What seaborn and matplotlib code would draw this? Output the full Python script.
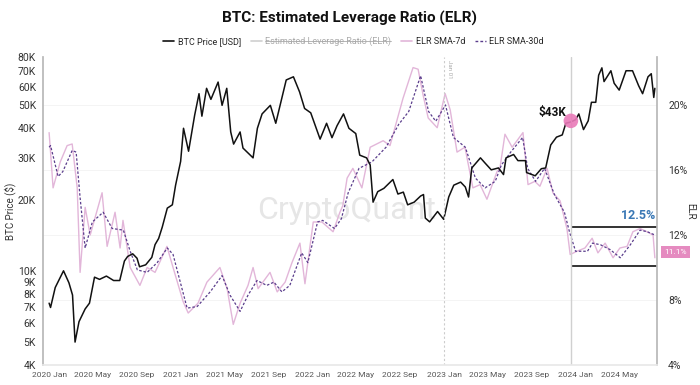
import pandas as pd
import matplotlib
matplotlib.use("Agg")
import matplotlib.pyplot as plt
import matplotlib.dates as mdates
from matplotlib.lines import Line2D
from matplotlib.ticker import NullLocator
import seaborn as sns

# BTC price (thousand USD)
btc_dates = ["2020-01-01", "2020-01-05", "2020-01-18", "2020-02-10", "2020-02-25", "2020-03-06",
             "2020-03-13", "2020-03-24", "2020-04-10", "2020-04-22", "2020-05-06", "2020-05-20",
             "2020-06-08", "2020-06-28", "2020-07-15", "2020-07-28", "2020-08-06", "2020-08-20",
             "2020-09-01", "2020-09-08", "2020-09-25", "2020-10-12", "2020-10-21", "2020-10-31",
             "2020-11-10", "2020-11-24", "2020-12-08", "2020-12-17", "2020-12-31", "2021-01-08",
             "2021-01-22", "2021-02-08", "2021-02-20", "2021-02-28", "2021-03-13", "2021-03-25",
             "2021-04-14", "2021-04-25", "2021-05-08", "2021-05-19", "2021-05-27", "2021-06-14",
             "2021-06-22", "2021-07-20", "2021-08-01", "2021-08-14", "2021-09-06", "2021-09-21",
             "2021-10-12", "2021-10-20", "2021-11-09", "2021-11-26", "2021-12-10", "2021-12-27",
             "2022-01-22", "2022-02-09", "2022-02-24", "2022-03-10", "2022-03-28", "2022-04-12",
             "2022-05-01", "2022-05-12", "2022-05-31", "2022-06-10", "2022-06-18", "2022-07-01",
             "2022-07-18", "2022-08-12", "2022-08-26", "2022-09-10", "2022-09-22", "2022-10-10",
             "2022-10-28", "2022-11-05", "2022-11-10", "2022-11-22", "2022-12-14", "2022-12-31",
             "2023-01-14", "2023-01-28", "2023-02-16", "2023-03-01", "2023-03-10", "2023-03-19",
             "2023-04-12", "2023-04-25", "2023-05-12", "2023-06-01", "2023-06-15", "2023-06-22",
             "2023-07-13", "2023-07-25", "2023-08-15", "2023-08-18", "2023-09-11", "2023-09-28",
             "2023-10-10", "2023-10-24", "2023-11-09", "2023-11-25", "2023-12-05", "2023-12-18",
             "2024-01-01", "2024-01-10", "2024-01-23", "2024-02-05", "2024-02-14", "2024-02-26",
             "2024-03-05", "2024-03-14", "2024-03-20", "2024-04-08", "2024-04-17", "2024-05-01",
             "2024-05-20", "2024-06-07", "2024-06-24", "2024-07-05", "2024-07-20", "2024-07-29",
             "2024-08-05", "2024-08-08"]
btc_price_k = [7.3, 7.0, 8.5, 10.0, 8.9, 7.9,
               5.0, 6.1, 6.9, 7.3, 9.4, 9.2,
               9.5, 9.1, 9.1, 11.0, 11.5, 11.8,
               11.3, 10.4, 10.6, 11.4, 12.9, 13.7,
               15.3, 18.4, 19.0, 23.0, 29.0, 40.0,
               32.0, 45.5, 56.0, 45.0, 59.0, 53.0,
               62.7, 50.0, 59.0, 38.6, 34.3, 38.6,
               33.0, 30.0, 40.0, 46.0, 50.0, 42.0,
               57.0, 64.0, 66.0, 57.0, 48.5, 46.5,
               36.0, 42.0, 36.5, 41.0, 46.0, 40.0,
               38.0, 30.8, 30.0, 28.0, 19.5, 21.6,
               22.3, 24.3, 21.1, 21.5, 19.0, 19.5,
               20.7, 21.0, 16.7, 16.1, 17.8, 16.5,
               20.5, 23.0, 23.7, 22.6, 20.5, 27.2,
               30.0, 28.5, 26.7, 27.2, 25.5, 30.0,
               31.0, 29.2, 29.2, 26.0, 25.2, 27.0,
               27.2, 34.0, 36.7, 37.5, 42.0, 42.5,
               43.5, 46.0, 39.5, 43.0, 51.5, 51.5,
               67.0, 72.0, 63.0, 70.0, 62.0, 58.0,
               70.0, 70.0, 60.5, 56.0, 66.0, 68.0,
               54.0, 59.0]

# ELR SMA-30d (%)
sma30_dates = ["2020-01-01", "2020-01-05", "2020-01-26", "2020-02-08", "2020-03-05", "2020-03-16",
               "2020-03-27", "2020-04-10", "2020-04-30", "2020-05-30", "2020-06-24", "2020-07-25",
               "2020-08-13", "2020-09-02", "2020-09-29", "2020-10-27", "2020-11-24", "2020-12-10",
               "2020-12-30", "2021-01-18", "2021-02-15", "2021-03-23", "2021-04-25", "2021-05-17",
               "2021-06-14", "2021-07-06", "2021-07-31", "2021-08-27", "2021-09-16", "2021-10-08",
               "2021-10-30", "2021-12-02", "2021-12-19", "2022-01-15", "2022-01-29", "2022-03-03",
               "2022-03-22", "2022-04-10", "2022-05-10", "2022-06-15", "2022-07-24", "2022-08-28",
               "2022-09-25", "2022-10-28", "2022-11-19", "2022-12-09", "2023-01-05", "2023-01-27",
               "2023-03-01", "2023-03-29", "2023-04-25", "2023-05-23", "2023-06-09", "2023-07-05",
               "2023-08-07", "2023-08-21", "2023-09-12", "2023-10-07", "2023-11-03", "2023-12-01",
               "2023-12-15", "2024-01-01", "2024-02-03", "2024-02-17", "2024-03-10", "2024-04-06",
               "2024-05-04", "2024-06-01", "2024-06-28", "2024-07-18", "2024-08-08"]
sma30_elr = [17.4, 17.5, 15.6, 15.9, 17.2, 17.1,
             14.3, 11.2, 12.8, 13.4, 12.4, 12.3,
             11.0, 9.85, 9.7, 10.3, 11.2, 10.8,
             9.1, 7.5, 7.6, 8.5, 9.5, 8.3,
             7.3, 8.3, 9.2, 8.9, 9.1, 8.5,
             8.9, 10.9, 10.3, 12.8, 12.9, 12.4,
             13.0, 14.6, 16.1, 16.5, 17.4, 18.8,
             19.6, 21.8, 19.6, 19.0, 20.0, 18.0,
             17.4, 15.5, 14.9, 15.3, 16.3, 17.1,
             18.0, 16.1, 15.3, 16.1, 14.5, 13.4,
             12.2, 11.0, 11.0, 11.5, 11.4, 11.1,
             10.6, 11.4, 12.3, 12.2, 12.0]

# ELR SMA-7d (%)
sma7_dates = ["2020-01-01", "2020-01-05", "2020-01-12", "2020-02-01", "2020-02-20", "2020-03-05",
              "2020-03-19", "2020-03-27", "2020-04-10", "2020-04-24", "2020-05-27", "2020-06-10",
              "2020-07-02", "2020-07-16", "2020-07-24", "2020-08-13", "2020-09-09", "2020-09-29",
              "2020-10-21", "2020-11-23", "2020-12-10", "2021-01-07", "2021-01-21", "2021-02-17",
              "2021-03-14", "2021-04-19", "2021-05-09", "2021-05-26", "2021-06-14", "2021-07-06",
              "2021-07-20", "2021-08-03", "2021-09-05", "2021-09-25", "2021-10-17", "2021-11-05",
              "2021-11-27", "2021-12-11", "2022-01-03", "2022-01-27", "2022-02-27", "2022-03-18",
              "2022-03-26", "2022-04-07", "2022-04-23", "2022-05-18", "2022-06-10", "2022-07-16",
              "2022-08-04", "2022-09-09", "2022-10-07", "2022-10-21", "2022-11-04", "2022-11-18",
              "2022-12-13", "2023-01-04", "2023-01-18", "2023-02-06", "2023-02-28", "2023-03-22",
              "2023-04-11", "2023-04-30", "2023-05-28", "2023-06-05", "2023-06-19", "2023-07-09",
              "2023-08-08", "2023-08-22", "2023-09-10", "2023-09-24", "2023-10-14", "2023-10-30",
              "2023-11-19", "2023-12-08", "2023-12-17", "2024-01-05", "2024-01-27", "2024-02-16",
              "2024-03-03", "2024-03-23", "2024-04-14", "2024-05-03", "2024-05-23", "2024-06-08",
              "2024-06-28", "2024-07-17", "2024-08-03", "2024-08-08"]
sma7_elr = [18.3, 17.1, 14.9, 16.5, 17.5, 17.6,
            14.9, 9.7, 13.7, 12.0, 14.6, 11.3,
            13.4, 11.2, 12.9, 10.0, 8.9, 10.0,
            9.7, 11.3, 10.0, 7.9, 7.2, 7.8,
            9.1, 10.0, 8.7, 6.5, 7.8, 8.9,
            10.0, 8.7, 9.7, 8.5, 9.1, 10.3,
            11.5, 9.0, 12.8, 12.8, 12.2, 13.4,
            13.8, 15.5, 16.1, 14.9, 17.4, 17.8,
            17.5, 20.4, 22.3, 22.2, 20.6, 19.2,
            18.6, 20.7, 19.7, 17.1, 17.4, 14.9,
            15.1, 14.2, 15.9, 16.1, 18.2, 17.4,
            18.3, 15.1, 15.3, 15.0, 16.1, 14.6,
            14.1, 12.4, 10.8, 11.0, 11.2, 11.8,
            10.9, 11.5, 10.6, 11.2, 11.3, 12.2,
            12.4, 12.2, 12.0, 10.6]

left_ticks = [4000, 5000, 6000, 7000, 8000, 9000, 10000, 20000, 30000, 40000, 50000, 60000, 70000, 80000]
left_labels = ["4K", "5K", "6K", "7K", "8K", "9K", "10K", "20K", "30K", "40K", "50K", "60K", "70K", "80K"]
right_ticks = [4, 8, 12, 16, 20]
right_labels = ["4%", "8%", "12%", "16%", "20%"]
legend_labels = ["BTC Price [USD]", "Estimated Leverage Ratio (ELR)", "ELR SMA-7d", "ELR SMA-30d"]

df_btc = pd.DataFrame({"date": pd.to_datetime(btc_dates), "price": [p * 1000 for p in btc_price_k]})
df_30 = pd.DataFrame({"date": pd.to_datetime(sma30_dates), "elr": sma30_elr})
df_7 = pd.DataFrame({"date": pd.to_datetime(sma7_dates), "elr": sma7_elr})

sns.set_theme(style="white")
plt.rcParams['font.family'] = ['Roboto', 'DejaVu Sans']

black = "#111111"
pink = "#e2b6d9"
purple = "#5a3d8c"
grey = "#b8b8b8"

fig = plt.figure(figsize=(7, 3.85), dpi=100)
ax = fig.add_axes([0.0614, 0.0519, 0.8772, 0.8])
ax2 = ax.twinx()
ax.set_zorder(ax2.get_zorder() + 1)
ax.patch.set_visible(False)

# ELR series on right axis
sns.lineplot(data=df_7, x="date", y="elr", ax=ax2, color=pink, lw=1.0)
sns.lineplot(data=df_30, x="date", y="elr", ax=ax2, color=purple, lw=0.9, linestyle=(0, (2, 1.5)))
ax2.set_ylim(4, 22.95)
ax2.set_yticks(right_ticks)
ax2.set_yticklabels(right_labels)
ax2.grid(axis="y", color="#f3f3f3", lw=0.6)
ax2.set_ylabel("ELR", rotation=270, fontsize=7, color="#333333", ha="center", va="center")
ax2.yaxis.set_label_coords(1.054, 0.5)
ax2.tick_params(axis="y", length=0, pad=8, labelsize=7.5, labelcolor="#333333")

# BTC on left axis
sns.lineplot(data=df_btc, x="date", y="price", ax=ax, color=black, lw=1.1)
ax.set_yscale("log")
ax.set_ylim(4000, 80000)
ax.set_yticks(left_ticks)
ax.set_yticklabels(left_labels)
ax.yaxis.set_minor_locator(NullLocator())
ax.set_ylabel("BTC Price ($)", fontsize=7, color="#333333", ha="center", va="center")
ax.yaxis.set_label_coords(-0.054, 0.5)
ax.set_xlabel("")
ax2.set_xlabel("")
ax.tick_params(axis="y", length=0, pad=5, labelsize=7.5, labelcolor="#333333")

ax.set_xlim(pd.Timestamp("2019-12-15"), pd.Timestamp("2024-08-14"))
ax.xaxis.set_major_locator(mdates.MonthLocator(bymonth=[1, 5, 9]))
ax.xaxis.set_major_formatter(mdates.DateFormatter("%Y %b"))
ax.tick_params(axis="x", length=0, pad=5, labelsize=6, labelcolor="#555555")

for s in ["top", "right"]:
    ax.spines[s].set_visible(False)
ax.spines["left"].set_color(grey)
ax.spines["bottom"].set_color("#e8e8e8")
for s in ["top", "left", "bottom"]:
    ax2.spines[s].set_visible(False)
ax2.spines["right"].set_color(grey)

# annotations
ax.axvline(pd.Timestamp("2023-01-01"), color="#cccccc", lw=0.8, ls=(0, (2, 2)))
ax.text(pd.Timestamp("2023-01-08"), 78000, "Jan 01", rotation=270, fontsize=4.5,
        color="#aaaaaa", ha="left", va="top")
mark = pd.Timestamp("2023-12-19")
ax.axvline(mark, color="#d0d0d0", lw=1.0)
ax.scatter([mark], [43000], s=110, color="#e97ab8", alpha=0.9, zorder=5, edgecolor="none")
ax.text(pd.Timestamp("2023-12-06"), 46500, "$43K", fontsize=8.5, fontweight="bold",
        color=black, ha="right", va="center")
ax2.hlines([12.5, 10.1], mark, pd.Timestamp("2024-08-14"), color=black, lw=1.2)
ax2.text(pd.Timestamp("2024-08-08"), 13.2, "12.5%", fontsize=9, fontweight="bold",
         color="#3a78b5", ha="right", va="center")
ax2.text(1.012, 10.95, "11.1%", transform=ax2.get_yaxis_transform(), fontsize=6,
         color="white", ha="left", va="center",
         bbox=dict(boxstyle="square,pad=0.35", facecolor="#e58bc0", edgecolor="none"))
ax2.text(0.495, 0.503, "CryptoQuant", transform=ax2.transAxes, fontsize=23,
         color="#e6e6e6", ha="center", va="center", zorder=0)

fig.text(0.5, 1 - 18 / 385, "BTC: Estimated Leverage Ratio (ELR)", fontsize=11,
         fontweight="bold", ha="center", va="center", color=black)

handles = [Line2D([], [], color=black, lw=1.2),
           Line2D([], [], color="#cfcfcf", lw=1.2),
           Line2D([], [], color=pink, lw=1.2),
           Line2D([], [], color=purple, lw=1.0, ls=(0, (2, 1.5)))]
leg = fig.legend(handles, legend_labels, loc="center", bbox_to_anchor=(0.505, 1 - 41 / 385),
                 ncol=4, frameon=False, fontsize=6.5, handlelength=1.2, handletextpad=0.4,
                 columnspacing=1.1)
leg.get_texts()[1].set_color("#aaaaaa")

fig.canvas.draw()
bb = leg.get_texts()[1].get_window_extent()
inv = fig.transFigure.inverted()
(x0, y0), (x1, y1) = inv.transform([(bb.x0, bb.y0), (bb.x1, bb.y1)])
fig.add_artist(Line2D([x0, x1], [(y0 + y1) / 2] * 2, transform=fig.transFigure,
                      color="#aaaaaa", lw=0.6))

fig.savefig("out.png", dpi=100)
